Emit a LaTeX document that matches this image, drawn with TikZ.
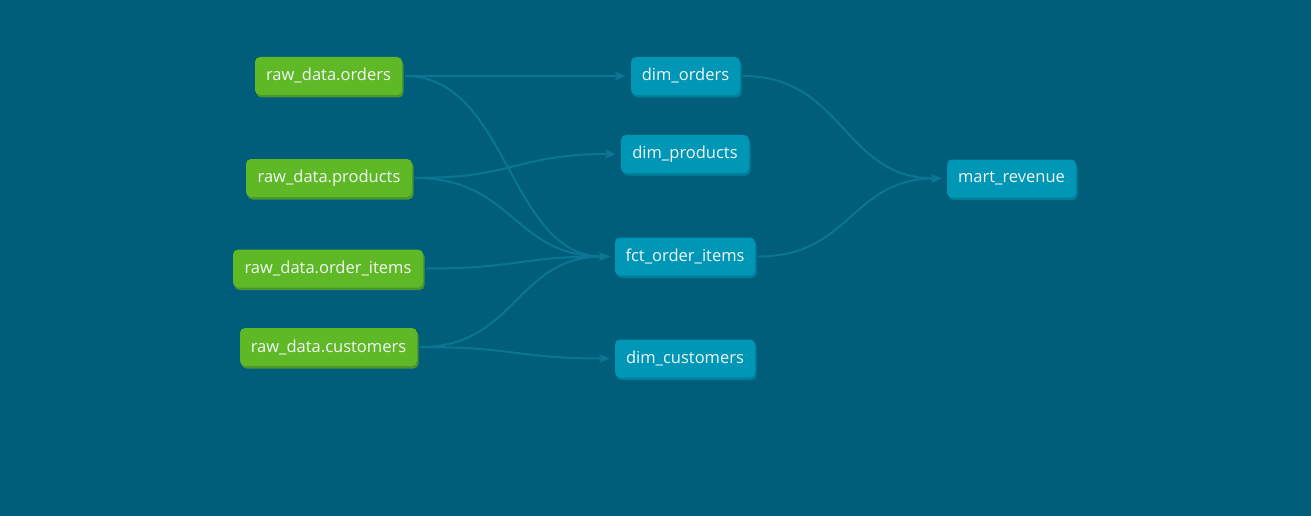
\documentclass[tikz,border=0pt]{standalone}
\usepackage{fontspec}
\setmainfont{Open Sans}
\usetikzlibrary{calc,arrows.meta,shadows}
\definecolor{bgc}{HTML}{005E7A}
\definecolor{srcc}{HTML}{5FB825}
\definecolor{srcsh}{HTML}{4A962C}
\definecolor{modc}{HTML}{0096B5}
\definecolor{modsh}{HTML}{007F9C}
\definecolor{edgec}{HTML}{0B7592}
\definecolor{txtc}{HTML}{F2F7F7}
\tikzset{
  box/.style={rounded corners=5pt, minimum height=38pt, inner sep=0pt, text=txtc,
    font=\fontsize{16.5}{18}\selectfont},
  srcbox/.style={box, fill=srcc, general shadow={fill=srcsh, shadow xshift=1.5pt, shadow yshift=-2.5pt}},
  modbox/.style={box, fill=modc, general shadow={fill=modsh, shadow xshift=1.5pt, shadow yshift=-2.5pt}},
  edge/.style={draw=edgec, line width=2pt, shorten <=3pt, shorten >=5pt,
    -{Stealth[length=11pt,width=9pt,inset=3pt]}},
}
\newcommand\dlink[2]{%
  \path ($(#1.east)!0.5!(#2.west)$) coordinate (m#1#2);
  \draw[edge] (#1.east) .. controls (m#1#2 |- #1.east) and (m#1#2 |- #2.west) .. (#2.west);}
\begin{document}
\begin{tikzpicture}[x=1pt,y=-1pt]
\fill[bgc] (0,0) rectangle (1311,516);
\useasboundingbox (0,0) rectangle (1311,516);
\node[srcbox, minimum width=147pt] (ro) at (328.5,76) {raw\_data.orders};
\node[srcbox, minimum width=166pt] (rp) at (329,178) {raw\_data.products};
\node[srcbox, minimum width=190pt] (roi) at (328,268.5) {raw\_data.order\_items};
\node[srcbox, minimum width=177pt] (rc) at (328.5,347) {raw\_data.customers};
\node[modbox, minimum width=109pt] (do) at (685.5,76) {dim\_orders};
\node[modbox, minimum width=128pt] (dp) at (685,154) {dim\_products};
\node[modbox, minimum width=140pt] (fct) at (685,256.5) {fct\_order\_items};
\node[modbox, minimum width=140pt] (dc) at (685,358.5) {dim\_customers};
\node[modbox, minimum width=129pt] (mr) at (1011.5,178.5) {mart\_revenue};
\dlink{ro}{do}
\dlink{ro}{fct}
\dlink{rp}{dp}
\dlink{rp}{fct}
\dlink{roi}{fct}
\dlink{rc}{fct}
\dlink{rc}{dc}
\dlink{do}{mr}
\dlink{fct}{mr}
\end{tikzpicture}
\end{document}
